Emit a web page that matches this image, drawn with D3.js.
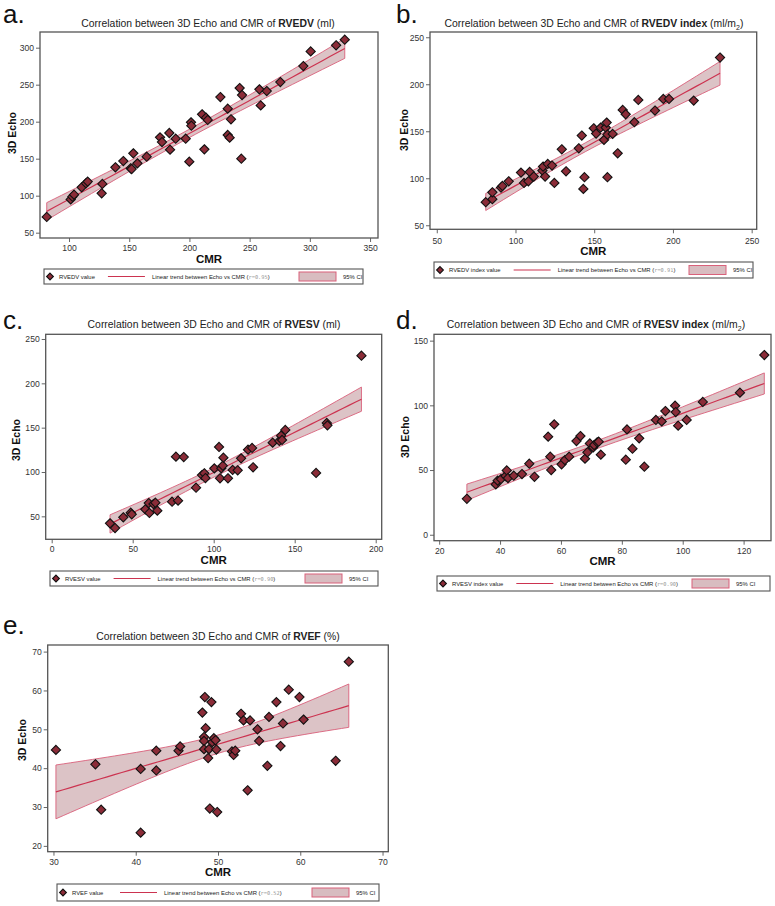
<!DOCTYPE html>
<html>
<head>
<meta charset="utf-8">
<script src="https://cdn.jsdelivr.net/npm/d3@7"></script>
<style>
body{margin:0;background:#fff;}
svg{display:block;font-family:"Liberation Sans",Arial,sans-serif;}
</style>
</head>
<body>
<svg id="chart" width="775" height="906"></svg>
<script>
// values
var rvedvCmr=[81.5,101.4,102.8,104.2,110.5,114.1,115.5,127.1,127.7,138.5,145.1,151.2,152,153.4,156.8,164.5,175.6,177.2,183.3,183.9,188.6,196.9,199.9,201.3,201.6,210.5,212.4,213.8,215.2,225.7,231.8,231.8,233.4,234.5,241.7,243.7,243.1,258.1,259.2,264.2,275.5,294.6,300.7,321.8,329]
var rvedvEcho=[71.2,95,98.6,101.4,111.3,116.7,119,103.2,115.8,138.3,146.8,137,136,157.2,143.7,152.7,178.8,172.5,184.7,162.2,177,177,146,199.1,194.6,209.9,162.6,205.4,202.3,233.3,217.6,182,178.4,203.2,245.5,236,150,243.7,222,241.4,253.6,275.2,295,303.2,310.8]

var rvedviCmr=[81.1,85.3,85.3,90.8,91.7,95.7,103.5,105.4,108.2,109,111.6,117.1,117.5,118.8,120.5,123.2,124.7,129.4,132.1,140.2,142.1,143.1,143.8,149.7,151.2,154.1,156.2,157.3,157.9,158.4,158.4,161.7,164.9,168.1,170,175.5,178,188.6,193.9,197.5,213.2,229.9]
var rvedviEcho=[74.5,77.7,85.1,90.1,91.8,96.8,106,95,96.8,106.7,101.8,108.2,112.4,101.8,115.2,113.5,95,130.8,107.4,131.9,145.4,88.7,101.1,153.2,147.5,153.9,140.8,153.9,159.2,146.5,101.1,147.2,126.6,172.7,168.1,159.6,183.3,172,184.4,184.4,182.6,228.4]

var rvesvCmr=[36,39.1,44.2,48.8,49.4,57.8,59.9,60.3,62.8,64,65.2,74.3,76.7,78,81.5,89.1,92.8,94.2,94.9,100.4,103.3,103.9,104.7,105.6,106,108.8,111.7,114.8,116.9,121.2,123.7,124.3,136.4,140.5,141.6,142.2,144.2,163.2,169.8,170.2,191.2]
var rvesvEcho=[42.1,36.8,48.9,54.1,52.3,57.9,65,53.8,63.9,65.4,56.4,66.5,117.3,67.7,116.9,82.3,96.6,98.5,93.2,104.1,128.2,92.9,104.1,107.1,116.2,92.9,102.3,101.9,115.4,125.2,127.1,105.3,133.1,135,141,136.1,147.4,98.9,155.3,152.6,231.2]

var rvesviCmr=[29.1,38.6,39.2,40.3,41.8,42.2,42.6,44.5,47.2,49.6,51.3,55.8,56.5,56.8,57.8,60.2,61.3,62.7,65.1,66.4,67.9,68.7,69.5,70.6,70.9,71.9,72.4,73.1,81.3,81.7,83.5,85.7,87.4,91.2,93.1,94.3,97.5,97.7,98.5,101.3,106.6,118.8,126.8]
var rvesviEcho=[27.8,38.9,41.8,43,45.4,49.7,43.8,45.6,46.9,54.9,44.8,75.8,60.3,50,85.3,54.4,57.7,60.3,72.4,76.3,58.8,63.7,70.6,67.5,69.3,71.4,71.9,61.9,58,81.4,66.5,74.5,52.6,88.7,87.6,95.6,99.7,94.8,84.3,88.7,102.6,109.8,138.9]

var rvefCmr=[30.3,35.1,40.6,42.5,42.5,45.2,45.4,48.1,48.4,48.5,48.3,48.3,48.3,48.8,48.9,49.2,49.3,49.5,49.7,49.8,51.7,51.9,52.1,52.8,53.1,53.6,53.9,54.8,55,56,56.2,57.1,57.6,57.9,58.6,59.9,60.4,64.3,65.9,35.8,49,49.9,40.6]
var rvefEcho=[44.7,41,39.8,44.5,39.4,44.5,45.6,54.3,58.3,50.3,48,47,44.9,42.6,44.9,57,46.7,47.7,47.2,44.8,44.3,43.4,44.5,54,52.3,34.3,52.3,50,47,40.6,53.2,57,45.7,51.5,60.2,58.3,52.5,41.9,67.4,29.3,29.6,28.7,23.4]

var rvedvXTicks=[100,150,200,250,300,350], rvedvYTicks=[50,100,150,200,250,300]
var rvedviXTicks=[50,100,150,200,250], rvedviYTicks=[50,100,150,200,250]
var rvesvXTicks=[0,50,100,150,200], rvesvYTicks=[50,100,150,200,250]
var rvesviXTicks=[20,40,60,80,100,120], rvesviYTicks=[0,50,100,150]
var rvefXTicks=[30,40,50,60,70], rvefYTicks=[20,30,40,50,60,70]

var rvedvXRange=[75.9,356.6], rvedvYRange=[42.8,321.2]
var rvedviXRange=[45.7,253.2], rvedviYRange=[45.7,255.6]
var rvesvXRange=[-3.7,203.7], rvesvYRange=[24.1,255.3]
var rvesviXRange=[18.3,129], rvesviYRange=[-4.6,154.9]
var rvefXRange=[29.3,70.7], rvefYRange=[18.5,71.7]

var letters=["a.","b.","c.","d.","e."]
var measures=["RVEDV","RVEDV index","RVESV","RVESV index","RVEF"]
var units=[" (ml)"," (ml/m"," (ml)"," (ml/m"," (%)"]
var legendNames=["RVEDV value","RVEDV index value","RVESV value","RVESV index value","RVEF value"]
var rLabels=["r=0.95","r=0.91","r=0.90","r=0.90","r=0.52"]

var tCrit=2.02

var markFill="#8b2c38", lineCol="#cc3350", bandFill="#d8bcc0", bandLine="#d9607a"

// layout of each panel (pixels)
var panels=[
	{x:rvedvCmr,y:rvedvEcho,xt:rvedvXTicks,yt:rvedvYTicks,xd:rvedvXRange,yd:rvedvYRange,
	 f:[40,32,378,238],lt:[3,23],title:[208,27],tickY:250.5,cmrY:263,yLab:[12,133],leg:[44,269,363,284]},
	{x:rvedviCmr,y:rvedviEcho,xt:rvedviXTicks,yt:rvedviYTicks,xd:rvedviXRange,yd:rvedviYRange,
	 f:[430,32,756.7,229.3],lt:[396,23],title:[594,27],tickY:243.5,cmrY:255,yLab:[404,130],leg:[434,262,753,278]},
	{x:rvesvCmr,y:rvesvEcho,xt:rvesvXTicks,yt:rvesvYTicks,xd:rvesvXRange,yd:rvesvYRange,
	 f:[45.7,334.3,381.7,539.3],lt:[3,329],title:[214,328],tickY:551.5,cmrY:564,yLab:[16,440],leg:[50,571,378,586]},
	{x:rvesviCmr,y:rvesviEcho,xt:rvesviXTicks,yt:rvesviYTicks,xd:rvesviXRange,yd:rvesviYRange,
	 f:[434,334.3,771,540.7],lt:[396,329],title:[596,328],tickY:554,cmrY:565,yLab:[405,437],leg:[437,576,770,591]},
	{x:rvefCmr,y:rvefEcho,xt:rvefXTicks,yt:rvefYTicks,xd:rvefXRange,yd:rvefYRange,
	 f:[47.7,645,388.3,851.7],lt:[3,634],title:[218,640],tickY:864.5,cmrY:876,yLab:[22,740],leg:[57,884,379,901]}
]

var svg=d3.select("#chart")

function fitLine(xs,ys){
	var n=xs.length
	var xm=d3.mean(xs), ym=d3.mean(ys)
	var sxx=d3.sum(xs,d=>(d-xm)*(d-xm))
	var sxy=d3.sum(xs,(d,i)=>(d-xm)*(ys[i]-ym))
	var b=sxy/sxx, a=ym-b*xm
	var sse=d3.sum(xs,(d,i)=>Math.pow(ys[i]-(a+b*d),2))
	var s=Math.sqrt(sse/(n-2))
	var lo=d3.min(xs), hi=d3.max(xs)
	var pts=d3.range(0,41).map(k=>{
		var x=lo+(hi-lo)*k/40
		var yh=a+b*x
		var se=tCrit*s*Math.sqrt(1/n+(x-xm)*(x-xm)/sxx)
		return {x:x,y:yh,lo:yh-se,hi:yh+se}
	})
	return pts
}

function diamond(sel,cx,cy,r){
	sel.append("path")
		.attr("d",`M${cx},${cy-r}L${cx+r},${cy}L${cx},${cy+r}L${cx-r},${cy}Z`)
		.attr("fill",markFill)
		.attr("stroke","#111")
		.attr("stroke-width",1.1)
}

panels.forEach((p,i)=>{
	var f=p.f
	var g=svg.append("g")

	var xScale=d3.scaleLinear().domain(p.xd).range([f[0],f[2]])
	var yScale=d3.scaleLinear().domain(p.yd).range([f[3],f[1]])

	// panel letter
	g.append("text")
		.attr("x",p.lt[0]).attr("y",p.lt[1])
		.attr("font-size",26)
		.attr("fill","#111")
		.text(letters[i])

	// title
	var t=g.append("text")
		.attr("x",p.title[0]).attr("y",p.title[1])
		.attr("text-anchor","middle")
		.attr("font-size",10.4)
		.attr("fill","#222")
	t.append("tspan").text("Correlation between 3D Echo and CMR of ")
	t.append("tspan").attr("font-weight","bold").text(measures[i])
	t.append("tspan").text(units[i])
	if(units[i].indexOf("/m")>=0){
		t.append("tspan").attr("font-size",7).attr("dy",2.5).text("2")
		t.append("tspan").attr("dy",-2.5).text(")")
	}

	// confidence band + fit
	var fit=fitLine(p.x,p.y)
	g.append("path")
		.datum(fit)
		.attr("d",d3.area().x(d=>xScale(d.x)).y0(d=>yScale(d.lo)).y1(d=>yScale(d.hi)))
		.attr("fill",bandFill)
		.attr("fill-opacity",0.9)
		.attr("stroke",bandLine)
		.attr("stroke-width",0.9)
	g.append("path")
		.datum(fit)
		.attr("d",d3.line().x(d=>xScale(d.x)).y(d=>yScale(d.y)))
		.attr("fill","none")
		.attr("stroke",lineCol)
		.attr("stroke-width",1.2)

	// points
	p.x.forEach((v,k)=>{
		diamond(g,xScale(v),yScale(p.y[k]),4.6)
	})

	// axes
	var xAxis=d3.axisBottom(xScale).tickValues(p.xt).tickSize(4).tickPadding(2).tickFormat(d3.format("d"))
	var yAxis=d3.axisLeft(yScale).tickValues(p.yt).tickSize(4).tickPadding(2).tickFormat(d3.format("d"))
	var gx=g.append("g").attr("transform",`translate(0,${f[3]})`).call(xAxis)
	var gy=g.append("g").attr("transform",`translate(${f[0]},0)`).call(yAxis)
	;[gx,gy].forEach(a=>{
		a.select(".domain").remove()
		a.selectAll("line").attr("stroke","#666")
		a.selectAll("text").attr("fill","#333").attr("font-size",8.6).attr("font-family","Liberation Sans, Arial")
	})
	gx.selectAll("text").attr("y",null).attr("dy",null).attr("transform",`translate(0,${p.tickY-f[3]})`)

	// frame
	g.append("rect")
		.attr("x",f[0]).attr("y",f[1])
		.attr("width",f[2]-f[0]).attr("height",f[3]-f[1])
		.attr("fill","none")
		.attr("stroke","#555")
		.attr("stroke-width",1.3)

	// axis labels
	g.append("text")
		.attr("x",(f[0]+f[2])/2).attr("y",p.cmrY)
		.attr("text-anchor","middle")
		.attr("font-size",11.5).attr("font-weight","bold").attr("fill","#111")
		.text("CMR")
	g.append("text")
		.attr("transform",`translate(${p.yLab[0]+4},${p.yLab[1]}) rotate(-90)`)
		.attr("text-anchor","middle")
		.attr("font-size",10.5).attr("font-weight","bold").attr("fill","#111")
		.text("3D Echo")

	// legend
	var L=p.leg, mid=(L[1]+L[3])/2, fs=5.9
	var lg=g.append("g")
	lg.append("rect")
		.attr("x",L[0]).attr("y",L[1])
		.attr("width",L[2]-L[0]).attr("height",L[3]-L[1])
		.attr("fill","#fff").attr("stroke","#555").attr("stroke-width",1.1)
	diamond(lg,L[0]+6,mid,3.4)
	var t1=lg.append("text")
		.attr("x",L[0]+15).attr("y",mid+2.1)
		.attr("font-size",fs).attr("fill","#222")
		.text(legendNames[i])
	var e1=L[0]+15+t1.node().getComputedTextLength()
	var ls=Math.max(e1+13,L[0]+63)
	lg.append("line")
		.attr("x1",ls).attr("x2",ls+37)
		.attr("y1",mid).attr("y2",mid)
		.attr("stroke",lineCol).attr("stroke-width",1.1)
	var t2=lg.append("text")
		.attr("x",ls+44).attr("y",mid+2.1)
		.attr("font-size",fs).attr("fill","#222")
	t2.append("tspan").text("Linear trend between Echo vs CMR (")
	t2.append("tspan").attr("font-family","DejaVu Sans Mono, monospace").attr("fill","#999").attr("font-size",fs-0.6).text(rLabels[i])
	t2.append("tspan").text(")")
	var e2=ls+44+t2.node().getComputedTextLength()
	var rx=Math.max(L[0]+255,e2+10)
	lg.append("rect")
		.attr("x",rx).attr("y",mid-4.5)
		.attr("width",37).attr("height",9)
		.attr("fill",bandFill).attr("stroke",bandLine).attr("stroke-width",1)
	lg.append("text")
		.attr("x",rx+44).attr("y",mid+2.1)
		.attr("font-size",fs).attr("fill","#222")
		.text("95% CI")
})
</script>
</body>
</html>
